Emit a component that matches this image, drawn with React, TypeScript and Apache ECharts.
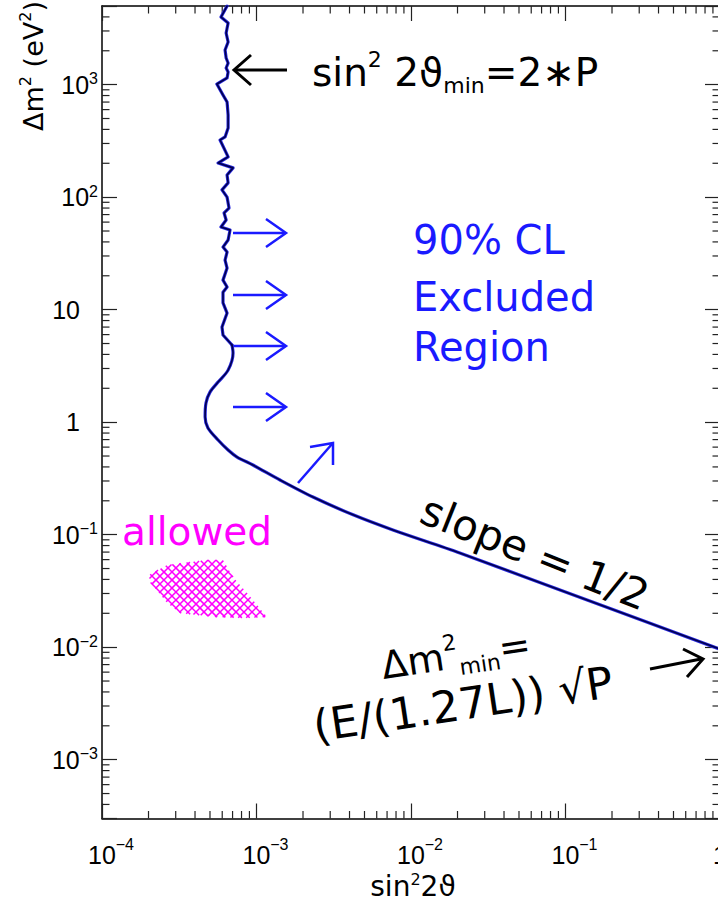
import React, { useEffect, useRef } from "react";
import * as echarts from "echarts";

// ---------------- data ----------------
const X_MIN = 1e-4;
const X_MAX = 1;
const Y_MIN = 3e-4;
const Y_MAX = 5000;

const xTickValues = [1e-4, 1e-3, 1e-2, 1e-1, 1];
const xTickLabels = ["{p| }10{s|−4}", "{p| }10{s|−3}", "{p| }10{s|−2}", "{p| }10{s|−1}", "1"];
const yTickValues = [1e-3, 1e-2, 1e-1, 1, 10, 100, 1000];
const yTickLabels = ["10{s|−3}", "10{s|−2}", "10{s|−1}", "1{p| }", "10{p| }", "10{s|2}", "10{s|3}"];
const minorMultipliers = [2, 3, 4, 5, 6, 7, 8, 9];
const xDecades = [1e-4, 1e-3, 1e-2, 1e-1];
const yDecades = [1e-4, 1e-3, 1e-2, 1e-1, 1, 10, 100, 1000];

// 90% CL exclusion limit (sin^2 2theta, delta m^2)
const limitSin2 = [
  6.45e-4, 5.89e-4, 6.55e-4, 6.36e-4, 6.55e-4, 6.26e-4, 6.36e-4, 6.55e-4, 6.36e-4, 6.55e-4,
  6.45e-4, 5.54e-4, 6.07e-4, 6.45e-4, 6.55e-4, 6.55e-4, 6.26e-4, 5.81e-4, 6.55e-4, 5.64e-4,
  7.05e-4, 6.45e-4, 6.55e-4, 5.98e-4, 6.45e-4, 6.64e-4, 6.17e-4, 6.36e-4, 5.89e-4, 6.74e-4,
  6.55e-4, 6.07e-4, 6.45e-4, 6.26e-4, 6.45e-4, 6.07e-4, 6.45e-4, 6.07e-4, 6.07e-4, 6.45e-4,
  5.98e-4, 6.07e-4, 6.94e-4, 7.05e-4, 6.55e-4, 5.64e-4, 5.0e-4, 4.71e-4, 4.65e-4, 4.85e-4,
  5.64e-4, 6.55e-4, 7.48e-4, 9.48e-4, 1.42e-3, 2.32e-3, 4.22e-3, 7.64e-3, 0.0207, 0.138, 1,
];
const limitDm2 = [
  5000, 3990, 3530, 2877, 2393, 2032, 1726, 1556, 1406, 1295,
  1146, 1013, 809, 701, 537, 412, 343, 322, 228, 201,
  182, 157, 134, 116, 100, 80, 72.3, 62.6, 54.3, 51.1,
  41.6, 36.0, 32.5, 27.6, 23.4, 18.3, 15.9, 14.3, 11.5, 9.33,
  7.01, 5.95, 4.85, 4.12, 2.9, 2.27, 1.85, 1.48, 1.11, 0.887,
  0.694, 0.565, 0.49, 0.416, 0.306, 0.216, 0.15, 0.11, 0.0687, 0.0262, 0.0096,
];
const BEND_START = 42;

// "allowed" region outline
const allowedSin2 = [2.01e-4, 2.64e-4, 4.79e-4, 6.07e-4, 7.05e-4, 8.69e-4, 1.17e-3, 8.19e-4, 5.54e-4, 3.2e-4, 2.64e-4, 2.05e-4];
const allowedDm2 = [0.0438, 0.0537, 0.0596, 0.0596, 0.042, 0.0303, 0.0185, 0.0182, 0.0185, 0.0201, 0.0247, 0.0379];

// ---------------- helpers ----------------
const lookup = (vals: number[], labels: string[], v: number) => {
  const i = vals.findIndex((t) => Math.abs(Math.log10(t) - Math.log10(v)) < 1e-6);
  return i < 0 ? "" : labels[i];
};

const BLACK = "#000";
const BLUE = "#1a1aff";
const MAGENTA = "#ff00ff";
const TICK = "#222";
const SANS = "DejaVu Sans";
const LABEL_FONT = "Liberation Sans";

const arrow = (shaft: number[][], head: number[][], color: string, lw: number) => [
  { type: "polyline", shape: { points: shaft }, style: { stroke: color, lineWidth: lw, fill: null }, silent: true },
  { type: "polyline", shape: { points: head }, style: { stroke: color, lineWidth: lw, fill: null, lineJoin: "miter" }, silent: true },
];

const txt = (x: number, y: number, text: string, fontSize: number, fill: string, opts: any = {}) => ({
  type: "text",
  x,
  y,
  rotation: opts.rotation || 0,
  silent: true,
  style: {
    text,
    fontFamily: opts.fontFamily || SANS,
    fontSize,
    fill,
    textAlign: opts.align || "left",
    align: opts.align || "left",
    textVerticalAlign: "middle",
    verticalAlign: "middle",
    lineHeight: opts.lineHeight,
    rich: opts.rich,
  },
});

export default function App() {
  const ref = useRef<HTMLDivElement>(null);

  useEffect(() => {
    if (!ref.current) return;
    const chart = echarts.init(ref.current, null, { renderer: "svg" });

    const xMinor = xDecades.flatMap((d) => minorMultipliers.map((m) => m * d)).filter((v) => v < X_MAX * 0.999);
    const yMinor = yDecades
      .flatMap((d) => minorMultipliers.map((m) => m * d))
      .filter((v) => v > Y_MIN * 1.001 && v < Y_MAX * 0.999);

    const limitPairs = limitSin2.map((x, i) => [x, limitDm2[i]]);
    const zig = limitPairs.slice(0, BEND_START + 1);
    const bend = limitPairs.slice(BEND_START);

    const axisCommon = {
      type: "log",
      logBase: 10,
      splitLine: { show: false },
      axisLine: { show: true, onZero: false, lineStyle: { color: BLACK, width: 1.5 } },
      axisTick: { show: true, inside: true, length: 15, lineStyle: { color: TICK, width: 1.2 } },
    };

    const lineSeries = (data: number[][], smooth: number | boolean, color: string, width: number, z: number) => ({
      type: "line",
      data,
      smooth,
      showSymbol: false,
      symbol: "none",
      silent: true,
      z,
      lineStyle: { color, width, join: "round", cap: "round" },
    });

    const supRich = { fontFamily: LABEL_FONT, fontSize: 16, lineHeight: 16, verticalAlign: "top", color: BLACK };

    const option: any = {
      animation: false,
      backgroundColor: "#fff",
      grid: { left: 102, top: 6, width: 618, height: 812.5, containLabel: false, outerBoundsMode: "none" },
      xAxis: [
        {
          ...axisCommon,
          position: "bottom",
          min: X_MIN,
          max: X_MAX,
          axisLabel: {
            show: true,
            margin: 18,
            color: BLACK,
            fontFamily: LABEL_FONT,
            fontSize: 25,
            lineHeight: 36,
            formatter: (v: number) => lookup(xTickValues, xTickLabels, v),
            rich: { s: supRich, p: { width: 18, fontSize: 16 } },
          },
        },
        {
          ...axisCommon,
          position: "top",
          min: X_MIN,
          max: X_MAX,
          axisLabel: { show: false },
        },
      ],
      yAxis: [
        {
          ...axisCommon,
          position: "left",
          min: Y_MIN,
          max: Y_MAX,
          axisLabel: {
            show: true,
            margin: 4,
            color: BLACK,
            fontFamily: LABEL_FONT,
            fontSize: 25,
            lineHeight: 28,
            formatter: (v: number) => lookup(yTickValues, yTickLabels, v),
            rich: { s: supRich, p: { width: 18, fontSize: 16 } },
          },
        },
        {
          ...axisCommon,
          position: "right",
          min: Y_MIN,
          max: Y_MAX,
          axisLabel: { show: false },
        },
      ],
      series: [
        {
          type: "custom",
          name: "allowed",
          silent: true,
          z: 2,
          data: allowedSin2.map((x, i) => [x, allowedDm2[i]]),
          renderItem: (params: any, api: any) => {
            if (params.dataIndex !== 0) return null;
            const pts = allowedSin2.map((x, i) => api.coord([x, allowedDm2[i]]));
            const children: any[] = [];
            const step = 8;
            [1, -1].forEach((dir) => {
              const cs = pts.map((p: number[]) => p[1] - dir * p[0]);
              const cmin = Math.min(...cs);
              const cmax = Math.max(...cs);
              for (let c = Math.ceil(cmin / step) * step; c <= cmax; c += step) {
                const hits: number[][] = [];
                for (let k = 0; k < pts.length; k++) {
                  const a = pts[k];
                  const b = pts[(k + 1) % pts.length];
                  const fa = a[1] - dir * a[0] - c;
                  const fb = b[1] - dir * b[0] - c;
                  if ((fa < 0 && fb >= 0) || (fa >= 0 && fb < 0)) {
                    const t = fa / (fa - fb);
                    hits.push([a[0] + t * (b[0] - a[0]), a[1] + t * (b[1] - a[1])]);
                  }
                }
                hits.sort((u, w) => u[0] - w[0]);
                for (let h = 0; h + 1 < hits.length; h += 2) {
                  children.push({
                    type: "line",
                    shape: { x1: hits[h][0], y1: hits[h][1], x2: hits[h + 1][0], y2: hits[h + 1][1] },
                    style: { stroke: MAGENTA, lineWidth: 1.5 },
                  });
                }
              }
            });
            return { type: "group", children };
          },
        },
        {
          type: "custom",
          name: "xMinorTicks",
          silent: true,
          z: 3,
          data: xMinor.map((v) => [v, 1]),
          renderItem: (params: any, api: any) => {
            const v = api.value(0);
            const b = api.coord([v, Y_MIN]);
            const t = api.coord([v, Y_MAX]);
            return {
              type: "group",
              children: [
                { type: "line", shape: { x1: b[0], y1: b[1], x2: b[0], y2: b[1] - 7.5 }, style: { stroke: TICK, lineWidth: 1.2 } },
                { type: "line", shape: { x1: t[0], y1: t[1], x2: t[0], y2: t[1] + 7.5 }, style: { stroke: TICK, lineWidth: 1.2 } },
              ],
            };
          },
        },
        {
          type: "custom",
          name: "yMinorTicks",
          silent: true,
          z: 3,
          data: yMinor.map((v) => [1e-2, v]),
          renderItem: (params: any, api: any) => {
            const v = api.value(1);
            const l = api.coord([X_MIN, v]);
            const r = api.coord([X_MAX, v]);
            return {
              type: "group",
              children: [
                { type: "line", shape: { x1: l[0], y1: l[1], x2: l[0] + 7.5, y2: l[1] }, style: { stroke: TICK, lineWidth: 1.2 } },
                { type: "line", shape: { x1: r[0], y1: r[1], x2: r[0] - 7.5, y2: r[1] }, style: { stroke: TICK, lineWidth: 1.2 } },
              ],
            };
          },
        },
        lineSeries(zig, false, "#2a2ae0", 3.2, 4),
        lineSeries(bend, 0.3, "#2a2ae0", 3.2, 4),
        lineSeries(zig, false, "#000050", 1.6, 5),
        lineSeries(bend, 0.3, "#000050", 1.6, 5),
      ],
      graphic: [
        // axis titles
        txt(33, 66, "Δm{u|2} (eV{u|2})", 27, BLACK, {
          align: "center",
          rotation: Math.PI / 2,
          lineHeight: 32,
          rich: { u: { fontFamily: SANS, fontSize: 16, lineHeight: 16, verticalAlign: "top" } },
        }),
        txt(413, 886, "sin{u|2}2ϑ", 28, BLACK, {
          align: "center",
          lineHeight: 30,
          rich: { u: { fontFamily: SANS, fontSize: 16, lineHeight: 16, verticalAlign: "top" } },
        }),
        // annotations
        txt(312, 72, "sin{u|2} 2ϑ{d|min}=2∗P", 39, BLACK, {
          lineHeight: 48,
          rich: {
            u: { fontFamily: SANS, fontSize: 22, lineHeight: 22, verticalAlign: "top" },
            d: { fontFamily: SANS, fontSize: 22, lineHeight: 22, verticalAlign: "bottom" },
          },
        }),
        ...arrow([[287, 70], [235, 70]], [[251, 55], [234, 70], [251, 85]], BLACK, 3),
        txt(413, 240, "90% CL", 40, BLUE),
        txt(413, 297, "Excluded", 40, BLUE),
        txt(413, 347, "Region", 40, BLUE),
        ...[233, 295, 346, 407].flatMap((y) =>
          arrow([[233, y], [284, y]], [[266, y - 14], [286, y], [266, y + 14]], BLUE, 2.5)
        ),
        ...arrow([[298, 483], [332, 444]], [[310, 447], [333, 443], [333, 465]], BLUE, 2.5),
        txt(535, 553, "slope = 1/2", 42, BLACK, { align: "center", rotation: -0.38 }),
        txt(122, 531, "allowed", 39, MAGENTA),
        txt(456, 655, "Δm{u|2}{d|min}=", 38, BLACK, {
          align: "center",
          rotation: 0.15,
          lineHeight: 48,
          rich: {
            u: { fontFamily: SANS, fontSize: 22, lineHeight: 22, verticalAlign: "top" },
            d: { fontFamily: SANS, fontSize: 22, lineHeight: 22, verticalAlign: "bottom" },
          },
        }),
        txt(463, 704, "(E/(1.27L)) √P", 44, BLACK, { align: "center", rotation: 0.15 }),
        ...arrow([[650, 669], [701, 659]], [[683, 649], [703, 659], [687, 677]], BLACK, 3),
      ],
    };

    chart.setOption(option);
    return () => chart.dispose();
  }, []);

  return (
    <div style={{ position: "fixed", left: 0, top: 0, width: 718, height: 901, overflow: "hidden", background: "#fff" }}>
      <div ref={ref} style={{ width: 740, height: 901 }} />
    </div>
  );
}
